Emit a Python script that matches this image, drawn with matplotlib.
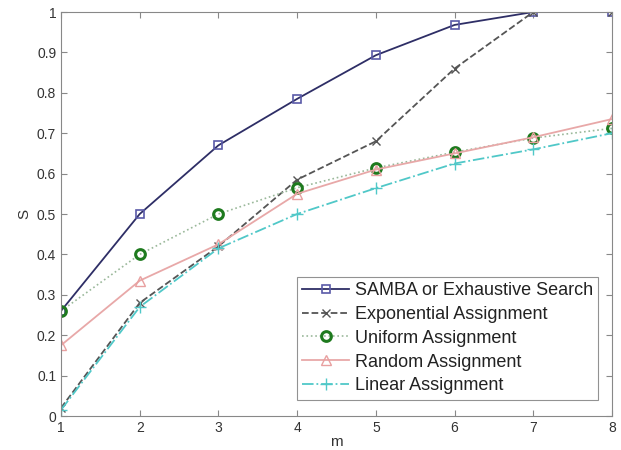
import matplotlib
matplotlib.use("Agg")
import matplotlib.pyplot as plt
import numpy as np

plt.rcParams['font.family'] = ['Liberation Sans', 'DejaVu Sans']

m = [1, 2, 3, 4, 5, 6, 7, 8]
samba = [0.26, 0.50, 0.67, 0.785, 0.893, 0.968, 1.0, 1.0]
expo = [0.02, 0.28, 0.42, 0.585, 0.68, 0.86, 1.0, 1.0]
uniform = [0.26, 0.40, 0.50, 0.565, 0.614, 0.653, 0.688, 0.712]
rand_a = [0.175, 0.335, 0.425, 0.55, 0.61, 0.65, 0.69, 0.735]
linear = [0.015, 0.27, 0.415, 0.50, 0.564, 0.625, 0.66, 0.70]

fig = plt.figure(figsize=(6.21, 4.5), dpi=100)
ax = fig.add_axes([61 / 621, 34 / 450, 551 / 621, 404 / 450])

ax.plot(m, samba, '-', color='#2e2e66', lw=1.3, marker='s', ms=6,
        mfc='none', mec='#5a5aa8', mew=1.2, label='SAMBA or Exhaustive Search')
ax.plot(m, expo, '--', color='#555555', lw=1.3, marker='x', ms=6,
        mec='#555555', label='Exponential Assignment')
ax.plot(m, uniform, ':', color='#9ab89a', lw=1.2, marker='o', ms=7,
        mfc='none', mec='#1e7a1e', mew=2.2, label='Uniform Assignment')
ax.plot(m, rand_a, '-', color='#e8a8a8', lw=1.3, marker='^', ms=7,
        mfc='none', mec='#e8a0a0', label='Random Assignment')
ax.plot(m, linear, '-.', color='#50c8c8', lw=1.3, marker='+', ms=8,
        mec='#50c8c8', label='Linear Assignment')

ax.set_xlim(1, 8)
ax.set_ylim(0, 1)
ax.set_xticks(m)
ax.set_yticks(np.arange(0, 1.01, 0.1))
ax.set_yticklabels(['0', '0.1', '0.2', '0.3', '0.4', '0.5', '0.6', '0.7', '0.8', '0.9', '1'])
ax.tick_params(direction='in', top=True, right=True, length=4, color='#888888',
               labelsize=10, labelcolor='#333333')
for s in ax.spines.values():
    s.set_color('#888888')
ax.set_xlabel('m', fontsize=11, color='#333333', labelpad=0)
ax.set_ylabel('S', fontsize=11, color='#333333', labelpad=4)

leg = ax.legend(loc='lower right', bbox_to_anchor=(0.975, 0.04), fontsize=13,
                frameon=True, fancybox=False, edgecolor='#777777',
                handlelength=2.6, handletextpad=0.3, borderpad=0.3,
                labelspacing=0.38, borderaxespad=0)
leg.get_frame().set_linewidth(0.8)
for t in leg.get_texts():
    t.set_color('#222222')

fig.savefig('out.png', dpi=100)
